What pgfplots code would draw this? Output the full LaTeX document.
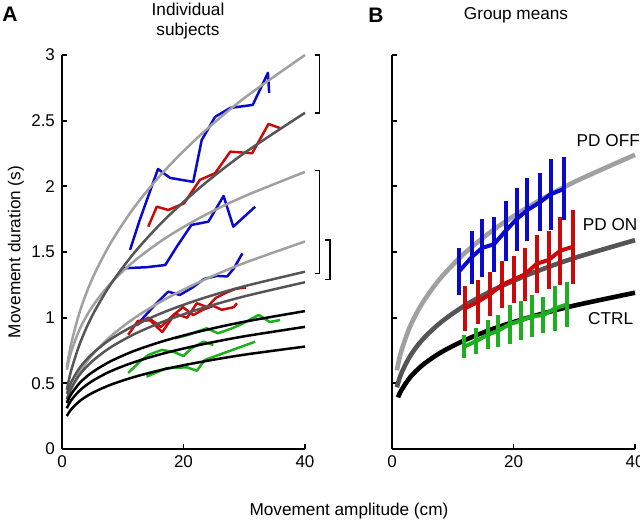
\documentclass[border=0pt]{standalone}
\usepackage{fontspec}
\setmainfont{Liberation Sans}
\usepackage{pgfplots}
\pgfplotsset{compat=1.18}
\definecolor{lgray}{RGB}{160,160,160}
\definecolor{dgray}{RGB}{85,85,85}
\definecolor{cblue}{RGB}{10,10,205}
\definecolor{cred}{RGB}{200,10,10}
\definecolor{cgreen}{RGB}{30,175,30}

\pgfplotsset{
  panel/.style={
    scale only axis, width=121.5pt, height=197pt,
    xmin=0, xmax=40, ymin=0, ymax=3,
    axis lines*=left, tick align=inside, major tick length=2.5pt,
    xtick={0,20,40}, ytick={0,0.5,1,1.5,2,2.5,3},
    axis line style={line width=0.9pt},
    tick style={line width=0.9pt, black},
    tick label style={font=\fontsize{8.5}{10}\selectfont},
    /pgf/number format/assume math mode=true,
    clip=false,
  },
  fitA/.style={line width=1.25pt, smooth},
  subj/.style={line width=1.25pt, line join=round},
  fitB/.style={line width=2.3pt, smooth},
  grp/.style={line width=2pt, line join=round,
    error bars/.cd, y dir=both, y explicit, error mark=none,
    error bar style={line width=2pt}, /pgfplots/.cd},
}

\begin{document}
\begin{tikzpicture}
\useasboundingbox (-31pt,-35.5pt) rectangle (289pt,224.5pt);

% ---------------- Panel A: individual subjects ----------------
\begin{axis}[panel, at={(0,0)}, anchor=south west]
  % PD OFF subjects
  \addplot[subj, cblue] coordinates {(11.2,1.516) (12.8,1.744) (15.8,2.132) (17.8,2.064) (21.6,2.034) (23.0,2.353) (25.2,2.529) (27.7,2.597) (31.4,2.620) (33.9,2.864) (34.1,2.711)};
  \addplot[subj, cblue] coordinates {(10.1,1.376) (13.9,1.384) (17.0,1.401) (18.9,1.541) (21.3,1.706) (24.1,1.731) (26.6,1.927) (28.2,1.693) (31.8,1.845)};
  \addplot[subj, cblue] coordinates {(12.3,0.944) (15.3,1.097) (17.5,1.198) (19.4,1.173) (21.5,1.230) (23.4,1.295) (25.5,1.318) (27.2,1.314) (28.3,1.376) (29.7,1.490)};
  % PD ON subjects
  \addplot[subj, cred] coordinates {(14.2,1.693) (15.6,1.845) (17.5,1.820) (20.1,1.871) (22.7,2.049) (25.2,2.100) (27.7,2.264) (31.3,2.252) (34.0,2.475) (35.9,2.443)};
  \addplot[subj, cred] coordinates {(10.9,0.87) (12.5,0.975) (14.5,0.98) (16.5,0.89) (18.6,1.03) (20.6,1.00) (22.2,1.11) (23.9,1.08) (25.3,1.15) (27.0,1.19) (28.6,1.22) (30.3,1.23)};
  \addplot[subj, cred] coordinates {(12.2,0.94) (14.2,1.00) (16.3,0.93) (18.1,1.01) (19.9,1.08) (21.6,1.02) (23.2,1.06) (24.9,1.09) (26.3,1.06) (28.3,1.08) (28.8,1.11)};
  % CTRL subjects
  \addplot[subj, cgreen] coordinates {(18.6,0.843) (20.7,0.868) (23.8,0.919) (25.7,0.881) (28.0,0.919) (29.6,0.952) (32.4,1.021) (34.2,0.967) (35.9,0.982)};
  \addplot[subj, cgreen] coordinates {(10.9,0.579) (12.8,0.665) (14.2,0.716) (16.4,0.754) (18.3,0.741) (20.0,0.708) (21.3,0.767) (23.3,0.817) (24.9,0.792)};
  \addplot[subj, cgreen] coordinates {(13.9,0.551) (17.2,0.615) (20.5,0.622) (22.2,0.596) (23.5,0.678) (31.8,0.817)};

  % power-law fits
  \addplot[fitA, lgray] coordinates {(0.8,0.620) (1.5,0.799) (3,1.056) (5,1.298) (8,1.568) (12,1.847) (17,2.125) (23,2.400) (30,2.672) (40,3.0)};
  \addplot[fitA, lgray] coordinates {(0.8,0.603) (1.5,0.738) (3,0.921) (5,1.085) (8,1.261) (12,1.435) (17,1.605) (23,1.768) (30,1.924) (40,2.11)};
  \addplot[fitA, lgray] coordinates {(0.8,0.357) (1.5,0.454) (3,0.590) (5,0.717) (8,0.857) (12,1.000) (17,1.141) (23,1.280) (30,1.416) (40,1.58)};
  \addplot[fitA, dgray] coordinates {(0.8,0.451) (1.5,0.596) (3,0.810) (5,1.017) (8,1.253) (12,1.500) (17,1.751) (23,2.002) (30,2.253) (40,2.56)};
  \addplot[fitA, dgray] coordinates {(0.8,0.421) (1.5,0.507) (3,0.624) (5,0.726) (8,0.836) (12,0.943) (17,1.046) (23,1.145) (30,1.239) (40,1.35)};
  \addplot[fitA, dgray] coordinates {(0.8,0.381) (1.5,0.462) (3,0.572) (5,0.669) (8,0.774) (12,0.877) (17,0.976) (23,1.071) (30,1.162) (40,1.27)};
  \addplot[fitA, black] coordinates {(0.8,0.350) (1.5,0.417) (3,0.507) (5,0.585) (8,0.668) (12,0.749) (17,0.826) (23,0.899) (30,0.969) (40,1.05)};
  \addplot[fitA, black] coordinates {(0.8,0.310) (1.5,0.370) (3,0.449) (5,0.518) (8,0.592) (12,0.663) (17,0.731) (23,0.796) (30,0.858) (40,0.93)};
  \addplot[fitA, black] coordinates {(0.8,0.251) (1.5,0.301) (3,0.368) (5,0.427) (8,0.489) (12,0.550) (17,0.609) (23,0.664) (30,0.718) (40,0.78)};

  % brackets
  \draw[line width=0.75pt] (axis cs:41.6,3.0) -- (axis cs:42.4,3.0) -- (axis cs:42.4,2.56) -- (axis cs:41.6,2.56);
  \draw[line width=0.75pt] (axis cs:41.6,2.12) -- (axis cs:42.4,2.12) -- (axis cs:42.4,1.338) -- (axis cs:41.6,1.338);
  \draw[line width=0.75pt] (axis cs:43.3,1.59) -- (axis cs:44.1,1.59) -- (axis cs:44.1,1.29) -- (axis cs:43.3,1.29);
\end{axis}

% ---------------- Panel B: group means ----------------
\begin{axis}[panel, at={(165pt,0)}, anchor=south west, yticklabels={}]
  \addplot[fitB, lgray] coordinates {(0.8,0.599) (1.5,0.741) (3,0.936) (5,1.111) (8,1.302) (12,1.493) (17,1.679) (23,1.859) (30,2.033) (40,2.24)};
  \addplot[fitB, dgray] coordinates {(0.8,0.470) (1.5,0.572) (3,0.709) (5,0.832) (8,0.963) (12,1.093) (17,1.218) (23,1.338) (30,1.454) (40,1.59)};
  \addplot[fitB, black] coordinates {(1,0.393) (1.5,0.444) (3,0.547) (5,0.638) (8,0.734) (12,0.829) (17,0.921) (23,1.008) (30,1.092) (40,1.19)};

  \addplot[cblue, grp] coordinates {(11.0,1.35) +- (0,0.18) (13.1,1.46) +- (0,0.20) (14.8,1.53) +- (0,0.22) (16.8,1.56) +- (0,0.21) (18.7,1.66) +- (0,0.23) (20.5,1.75) +- (0,0.24) (22.3,1.82) +- (0,0.24) (24.4,1.88) +- (0,0.22) (26.1,1.94) +- (0,0.27) (28.3,1.98) +- (0,0.24)};
  \addplot[cred, grp] coordinates {(12.0,1.07) +- (0,0.17) (14.1,1.12) +- (0,0.17) (16.2,1.18) +- (0,0.17) (18.1,1.25) +- (0,0.18) (20.0,1.29) +- (0,0.18) (21.9,1.33) +- (0,0.20) (23.8,1.41) +- (0,0.22) (25.8,1.44) +- (0,0.22) (27.7,1.51) +- (0,0.26) (29.8,1.54) +- (0,0.28)};
  \addplot[cgreen, grp] coordinates {(11.9,0.78) +- (0,0.09) (13.8,0.82) +- (0,0.10) (15.8,0.87) +- (0,0.11) (17.4,0.90) +- (0,0.12) (19.4,0.95) +- (0,0.15) (21.3,0.98) +- (0,0.15) (23.0,1.01) +- (0,0.16) (24.9,1.02) +- (0,0.14) (26.8,1.07) +- (0,0.17) (28.8,1.10) +- (0,0.17)};

  \node[font=\fontsize{8.6}{10}\selectfont] at (axis cs:35.6,2.345) {PD OFF};
  \node[font=\fontsize{8.6}{10}\selectfont] at (axis cs:35.9,1.71) {PD ON};
  \node[font=\fontsize{8.6}{10}\selectfont] at (axis cs:36,0.99) {CTRL};
\end{axis}

% titles and labels
\node[font=\bfseries\fontsize{10.5}{12}\selectfont] at (-26pt,217.5pt) {A};
\node[font=\bfseries\fontsize{10.5}{12}\selectfont] at (157pt,217pt) {B};
\node[align=center, font=\fontsize{8.6}{10}\selectfont] at (63pt,214pt) {Individual\\subjects};
\node[font=\fontsize{8.6}{10}\selectfont] at (227pt,217pt) {Group means};
\node[rotate=90, font=\fontsize{8.6}{10}\selectfont] at (-23pt,98.5pt) {Movement duration (s)};
\node[font=\fontsize{8.6}{10}\selectfont] at (143.5pt,-31pt) {Movement amplitude (cm)};
\end{tikzpicture}
\end{document}
